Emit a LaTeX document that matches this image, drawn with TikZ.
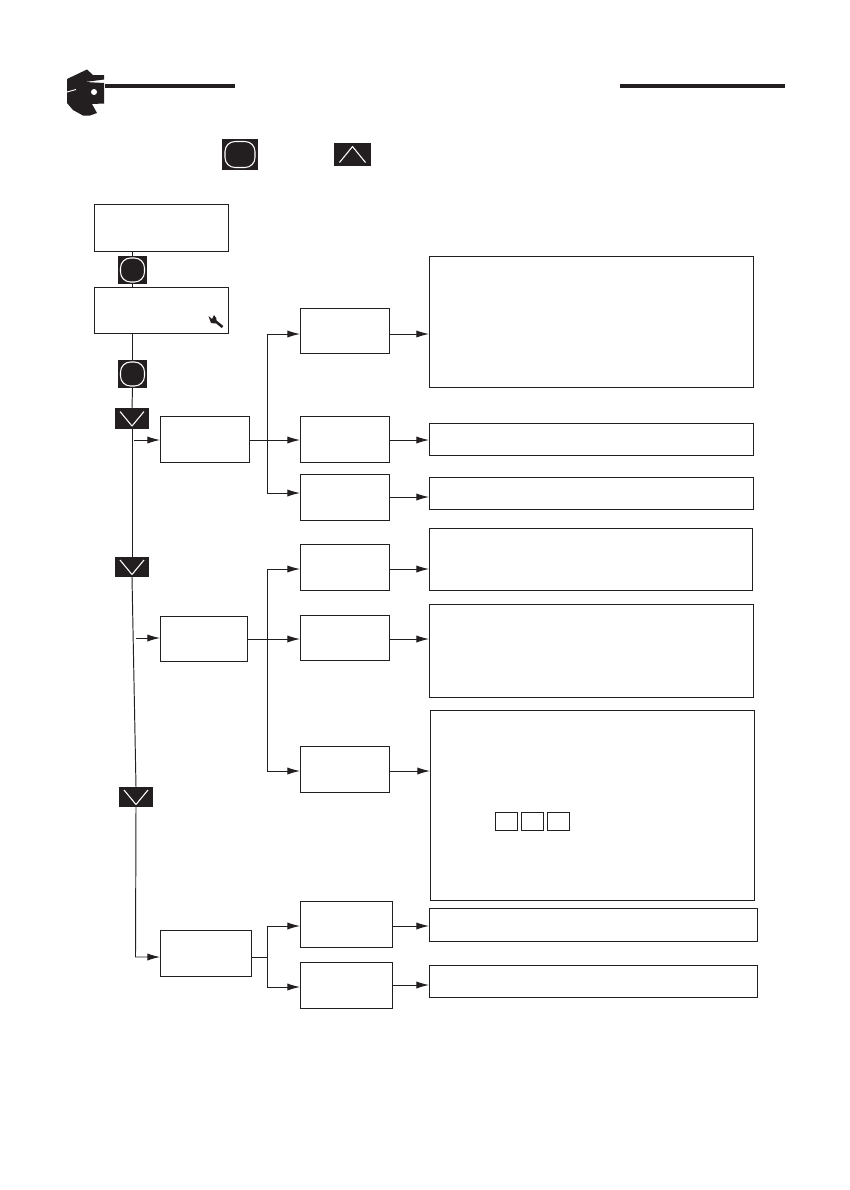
\documentclass[tikz,border=0pt]{standalone}
\usetikzlibrary{arrows.meta}
\definecolor{ink}{HTML}{231F20}
\tikzset{
  x=0.75pt,y=-0.75pt,
  line/.style={draw=ink,line width=0.72pt},
  arr/.style={line,-{Latex[length=9.5pt,width=5.4pt]}},
  box/.style={draw=ink,line width=0.72pt,fill=white,inner sep=0pt,outer sep=0pt,anchor=north west},
  key/.style={fill=ink,inner sep=0pt,outer sep=0pt,anchor=north west},
  glyph/.style={draw=white,line width=0.8pt,line join=round}
}
% \bx{name}{x1}{y1}{x2}{y2}
\newcommand{\bx}[5]{\node[box,minimum width={((#4)-(#2))*0.75pt},minimum height={((#5)-(#3))*0.75pt}] (#1) at (#2,#3) {};}
\newcommand{\ky}[5]{\node[key,minimum width={((#4)-(#2))*0.75pt},minimum height={((#5)-(#3))*0.75pt}] (#1) at (#2,#3) {};}
% rounded key glyph
\newcommand{\rnd}[3]{\draw[glyph,rounded corners=7.5pt] ([shift={(-#2,-#3)}]#1.center) rectangle ([shift={(#2,#3)}]#1.center);}
% down chevron
\newcommand{\dwn}[1]{\draw[glyph] ([shift={(-12,-7)}]#1.center) -- ([shift={(0,7.5)}]#1.center) -- ([shift={(12,-7)}]#1.center);}
\begin{document}
\begin{tikzpicture}
\useasboundingbox (0,0) rectangle (850,1190);
\fill[white] (0,0) rectangle (850,1190);
% header
\node[fill=ink,inner sep=0pt,outer sep=0pt,anchor=north west,minimum width={130*0.75pt},minimum height={4*0.75pt}] (rulea) at (105,84) {};
\node[fill=ink,inner sep=0pt,outer sep=0pt,anchor=north west,minimum width={165*0.75pt},minimum height={4.5*0.75pt}] (ruleb) at (620,83.5) {};
\fill[ink] (67,79) -- (87,69.5) -- (93,75) -- (104,75) -- (104,79.5) -- (85,82) -- (104,83) -- (104,103.5) -- (92,104) -- (97,113) -- (90,115.5) -- (83,115.5) -- (73,110) -- (67,103) -- cycle;
\draw[white,line width=0.7pt] (67,92) -- (76,89.5);
\fill[white] (94,92) circle (3);
% top keys
\ky{topk}{222}{139}{258}{170}
\rnd{topk}{15}{13}
\ky{upk}{334}{143}{371}{166}
\draw[glyph] ([shift={(-13,8)}]upk.center) -- ([shift={(0,-8)}]upk.center) -- ([shift={(13,8)}]upk.center);
% left column
\bx{a}{94}{204}{228}{251}
\bx{b}{94}{287}{228}{333}
\ky{k1}{118}{256}{147}{284}
\rnd{k1}{12}{12}
\ky{k2}{118}{360}{147}{388}
\rnd{k2}{12}{12}
\ky{d1}{115}{408}{149}{429}
\dwn{d1}
\ky{d2}{115}{557}{149}{577}
\dwn{d2}
\ky{d3}{119}{787}{153}{807}
\dwn{d3}
% wrench
\draw[ink,line width=1.9pt] (214,320) -- (222.5,327);
\fill[ink] (208.5,316) -- (212,319) -- (214,315) -- (216.5,318.5) -- (215.5,323.5) -- (211,323) -- cycle;
% level 1
\bx{c1}{160}{416}{249}{462}
\bx{c2}{160}{616}{247}{661}
\bx{c3}{160}{930}{251}{976}
% level 2
\bx{e1}{300}{308}{389}{353}
\bx{e2}{300}{416}{389}{462}
\bx{e3}{300}{474}{389}{520}
\bx{e4}{300}{544}{389}{590}
\bx{e5}{300}{615}{389}{660}
\bx{e6}{300}{746}{389}{792}
\bx{e7}{300}{901}{392}{947}
\bx{e8}{300}{962}{392}{1008}
% level 3
\bx{f1}{429}{256}{753}{387}
\bx{f2}{429}{423}{753}{455}
\bx{f3}{429}{477}{753}{509}
\bx{f4}{429}{528}{752}{590}
\bx{f5}{429}{604}{753}{697}
\bx{f6}{430}{710}{754}{900}
\bx{f7}{429}{908}{757}{941}
\bx{f8}{429}{965}{757}{997}
% small squares
\bx{s1}{495}{812}{517}{830}
\bx{s2}{521}{812}{543}{830}
\bx{s3}{547}{812}{569}{830}
% helper levels
\coordinate (y1) at (0,334);
\coordinate (y2) at (0,440);
\coordinate (y3) at (0,493);
\coordinate (y4) at (0,497);
\coordinate (y5) at (0,569);
\coordinate (y6) at (0,639);
\coordinate (y7) at (0,771);
\coordinate (y8) at (0,926);
\coordinate (y9) at (0,987);
\coordinate (y10) at (0,957);
\coordinate (y11) at (0,985);
\coordinate (tr1) at (267,0);
\coordinate (j1) at (134,440);
\coordinate (j2) at (136,638);
\coordinate (tail3) at (135.5,957);
% main spine
\draw[line] (k1.north) -- (k1.north |- a.south);
\draw[line] (k1.south) -- (k1.south |- b.north);
\draw[line] (k2.north) -- (k2.north |- b.south);
\draw[line] (k2.south) -- (d1.north);
\draw[line] (d1.south) -- (d2.north);
\draw[line] (d2.south) -- (d3.north);
\draw[arr] (d3.south) -- (tail3) -- (c3.west |- tail3);
\draw[arr] (j1) -- (c1.west |- j1);
\draw[arr] (j2) -- (c2.west |- j2);
% branch 1
\draw[arr] (c1.east |- y2) -- (e2.west |- y2);
\draw[arr] (tr1 |- y2) -- (tr1 |- y1) -- (e1.west |- y1);
\draw[arr] (tr1 |- y2) -- (tr1 |- y3) -- (e3.west |- y3);
% branch 2
\draw[arr] (c2.east |- y6) -- (e5.west |- y6);
\draw[arr] (tr1 |- y6) -- (tr1 |- y5) -- (e4.west |- y5);
\draw[arr] (tr1 |- y6) -- (tr1 |- y7) -- (e6.west |- y7);
% branch 3
\draw[line] (c3.east |- y10) -- (tr1 |- y10);
\draw[arr] (tr1 |- y10) -- (tr1 |- y8) -- (e7.west |- y8);
\draw[arr] (tr1 |- y10) -- (tr1 |- y9) -- (e8.west |- y9);
% to text panels
\draw[arr] (e1.east |- y1) -- (f1.west |- y1);
\draw[arr] (e2.east |- y2) -- (f2.west |- y2);
\draw[arr] (e3.east |- y4) -- (f3.west |- y4);
\draw[arr] (e4.east |- y5) -- (f4.west |- y5);
\draw[arr] (e5.east |- y6) -- (f5.west |- y6);
\draw[arr] (e6.east |- y7) -- (f6.west |- y7);
\draw[arr] (e7.east |- y8) -- (f7.west |- y8);
\draw[arr] (e8.east |- y11) -- (f8.west |- y11);
\end{tikzpicture}
\end{document}
